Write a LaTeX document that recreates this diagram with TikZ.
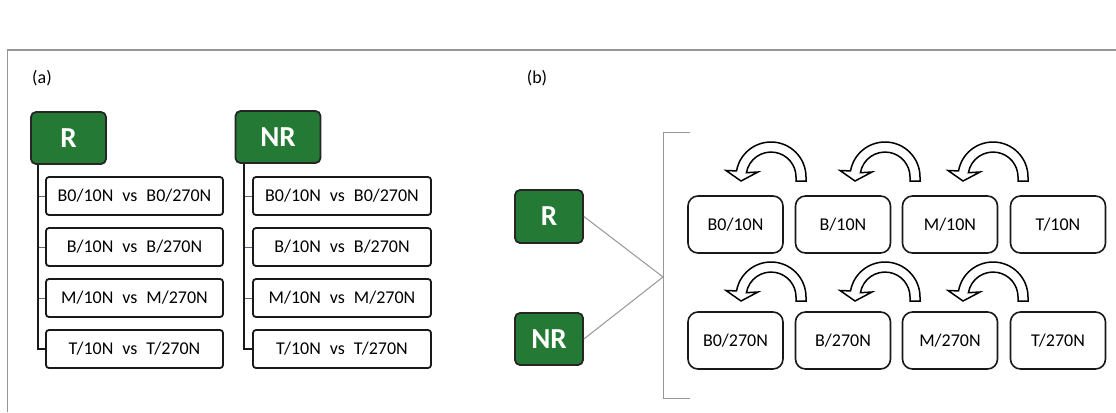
\documentclass[tikz,border=0pt]{standalone}
\usepackage{fontspec}
\setmainfont{Carlito}
\definecolor{boxgreen}{RGB}{36,122,52}
\definecolor{framegray}{RGB}{150,150,150}
\definecolor{tickblue}{RGB}{90,105,140}
\begin{document}
\begin{tikzpicture}[x=1bp,y=-1bp,
  greenbox/.style={draw=black!85, line width=1.8bp, fill=boxgreen, rounded corners=5bp,
    text=white, font=\bfseries\fontsize{29bp}{30bp}\selectfont, inner sep=0pt},
  cmpbox/.style={draw=black!90, line width=1.8bp, fill=white, rounded corners=3bp,
    minimum height=38bp, inner sep=0pt, font=\fontsize{18bp}{20bp}\selectfont},
  condbox/.style={draw=black!90, line width=1.6bp, fill=white, rounded corners=10bp,
    minimum width=95bp, minimum height=57bp, inner sep=0pt, font=\fontsize{18bp}{20bp}\selectfont},
  panel/.style={font=\fontsize{18bp}{20bp}\selectfont, inner sep=0pt},
  conn/.style={draw=black!90, line width=2bp},
  tick/.style={draw=tickblue, line width=1bp},
  thin/.style={draw=framegray, line width=1bp},
  curvarr/.pic={
    \draw[line width=1.5bp, fill=white, line join=miter]
      (35,4) -- (35,0) arc[start angle=0, end angle=170, radius=35bp]
      -- (-45,-6.5) -- (-30,4) -- (-13,-5) -- (-24.6,-4.3)
      arc[start angle=170, end angle=0, radius=25bp] -- (25,4) -- cycle;
  }]
\useasboundingbox (0,0) rectangle (1116,412);
% frame
\draw[draw=framegray, line width=1.3bp] (7.5,412) -- (7.5,50) -- (1116,50);

% ---------- (a) ----------
\node[panel] (la) at (42,78) {(a)};
\node[greenbox, minimum width=75bp, minimum height=52bp] (aR) at (68.5,138) {R};
\node[greenbox, minimum width=85bp, minimum height=52bp] (aNR) at (278,137) {NR};

\foreach \i/\y/\t in {1/196/B0,2/247/B,3/298/M,4/349/T}{
  \node[cmpbox, minimum width=177bp] (r\i) at (134.5,\y) {\t/10N\hspace{0.5em}vs\hspace{0.5em}\t/270N};
  \node[cmpbox, minimum width=178bp] (n\i) at (342,\y) {\t/10N\hspace{0.5em}vs\hspace{0.5em}\t/270N};
}
\foreach \i in {1,2,3}{
  \draw[tick] (r\i.west) -- ++(-8,0);
  \draw[tick] (n\i.west) -- ++(-8,0);
}
\draw[conn] ([xshift=7.5bp]aR.south west) |- (r4.west);
\draw[conn] ([xshift=9bp]aNR.south west) |- (n4.west);

% ---------- (b) ----------
\node[panel] (lb) at (537,78) {(b)};
\node[greenbox, minimum width=68bp, minimum height=53bp] (bR) at (549,216.5) {R};
\node[greenbox, minimum width=68bp, minimum height=52bp] (bNR) at (549,339) {NR};
\coordinate (meet) at (663,277);
\draw[thin] (bR.east) -- (meet);
\draw[thin] (bNR.east) -- (meet);
\coordinate (brt) at (690,132);
\coordinate (brb) at (690,398);
\draw[thin] (brt) -- (663,132) -- (663,398) -- (brb);

\foreach \k/\x in {1/735.5,2/843,3/950,4/1058}{
  \ifcase\k\or
    \def\ta{B0}\or\def\ta{B}\or\def\ta{M}\or\def\ta{T}\fi
  \node[condbox] (u\k) at (\x,224.5) {\ta/10N};
  \node[condbox] (d\k) at (\x,340.5) {\ta/270N};
}
\foreach \cx in {771,885,993}{
  \pic at (\cx,177) {curvarr};
  \pic at (\cx,297) {curvarr};
}
\end{tikzpicture}
\end{document}
